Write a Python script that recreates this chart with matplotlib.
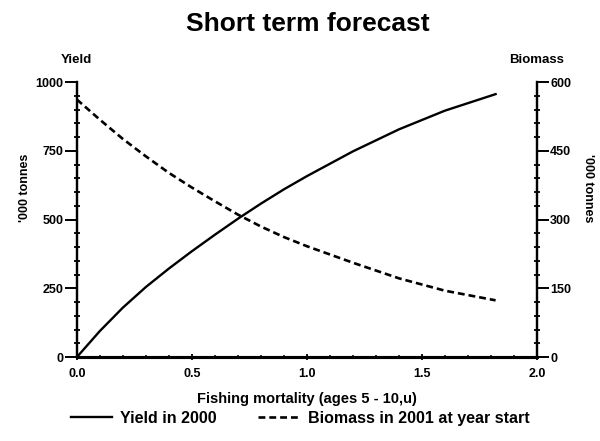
import numpy as np
import matplotlib.pyplot as plt
from matplotlib.ticker import MultipleLocator

# Fishing mortality values
fmort = [0.0, 0.1, 0.2, 0.3, 0.4, 0.5, 0.6, 0.7, 0.8, 0.9, 1.0, 1.2, 1.4, 1.6, 1.82]

# Yield in 2000 ('000 tonnes, left axis)
yield_2000 = [0, 95, 180, 255, 322, 385, 445, 503, 558, 610, 658, 748, 828, 896, 956]

# Biomass in 2001 at year start ('000 tonnes, right axis)
biomass_2001 = [562, 518, 476, 438, 402, 370, 340, 311, 285, 262, 242, 206, 172, 145, 124]

plt.rcParams['font.family'] = ['Liberation Sans', 'DejaVu Sans']
plt.rcParams['font.weight'] = 'bold'

fig = plt.figure(figsize=(6, 4.41), dpi=100)
ax = fig.add_axes([0.128, 0.19, 0.767, 0.624])
ax2 = ax.twinx()

l1, = ax.plot(fmort, yield_2000, color='black', lw=1.7)
l2, = ax2.plot(fmort, biomass_2001, color='black', lw=1.9, dashes=(2.6, 1.5))

ax.set_xlim(0, 2.0)
ax.set_ylim(0, 1000)
ax2.set_ylim(0, 600)

ax.xaxis.set_major_locator(MultipleLocator(0.5))
ax.xaxis.set_minor_locator(MultipleLocator(0.1))
ax.yaxis.set_major_locator(MultipleLocator(250))
ax.yaxis.set_minor_locator(MultipleLocator(50))
ax2.yaxis.set_major_locator(MultipleLocator(150))
ax2.yaxis.set_minor_locator(MultipleLocator(30))

ax.xaxis.set_major_formatter(lambda v, p: f'{v:.1f}')

for a in (ax, ax2):
    a.spines['top'].set_visible(False)
    a.spines['bottom'].set_linewidth(2.2)
    a.spines['left'].set_linewidth(1.6)
    a.spines['right'].set_linewidth(1.6)

ax.tick_params(axis='y', which='major', direction='out', length=8.5, width=1.4, labelsize=9, pad=1)
ax.tick_params(axis='y', which='minor', direction='inout', length=4, width=1.3)
ax2.tick_params(axis='y', which='major', direction='out', length=8.5, width=1.4, labelsize=9, pad=1)
ax2.tick_params(axis='y', which='minor', direction='inout', length=4, width=1.3)
ax.tick_params(axis='x', which='major', direction='inout', length=5, width=1.3, labelsize=9, pad=5)
ax.tick_params(axis='x', which='minor', direction='inout', length=3, width=1.1)

ax.set_xlabel('Fishing mortality (ages 5 - 10,u)', fontsize=10.5, fontweight='bold', labelpad=9)
ax.set_ylabel("'000 tonnes", fontsize=9, fontweight='bold')
ax.yaxis.set_label_coords(-0.10, 0.615)
ax2.set_ylabel("'000 tonnes", fontsize=9, fontweight='bold', rotation=270, va='center')
ax2.yaxis.set_label_coords(1.11, 0.615)

ax.text(0.0, 1.08, 'Yield', transform=ax.transAxes, ha='center', va='center',
        fontsize=9.5, fontweight='bold')
ax.text(1.0, 1.08, 'Biomass', transform=ax.transAxes, ha='center', va='center',
        fontsize=9.5, fontweight='bold')

fig.suptitle('Short term forecast', x=0.513, y=0.972, fontsize=19, fontweight='bold')

fig.legend([l1, l2], ['Yield in 2000', 'Biomass in 2001 at year start'],
           loc='center', bbox_to_anchor=(0.5, 0.052), ncol=2, frameon=False,
           handlelength=2.6, handletextpad=0.5, columnspacing=2.6,
           prop={'weight': 'bold', 'size': 11.5})

fig.savefig('out.png', dpi=100)
